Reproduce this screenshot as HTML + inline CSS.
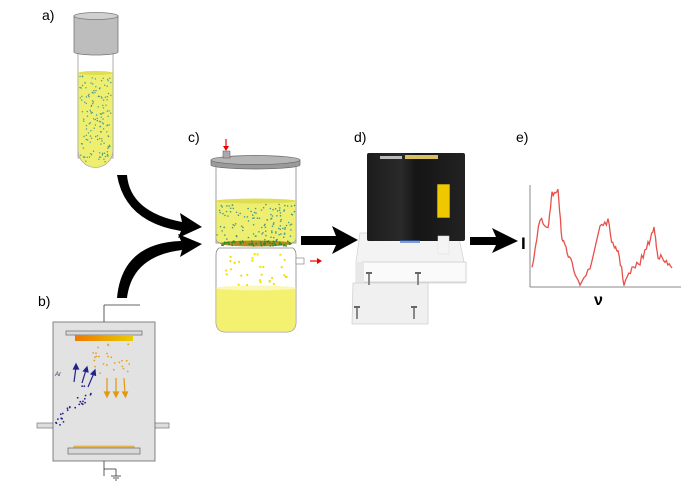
<!DOCTYPE html>
<html><head><meta charset="utf-8"><style>
html,body{margin:0;padding:0;background:#fff;}
svg{display:block;font-family:"Liberation Sans",sans-serif;}
</style></head><body>
<svg id="s" width="700" height="484" viewBox="0 0 700 484" xmlns="http://www.w3.org/2000/svg">
<defs>
<linearGradient id="tg" x1="0" x2="1"><stop offset="0" stop-color="#f07800"/><stop offset="1" stop-color="#e8cc00"/></linearGradient>
<linearGradient id="bx" x1="0" x2="1"><stop offset="0" stop-color="#1c1c1c"/><stop offset="0.35" stop-color="#2a2a2a"/><stop offset="0.5" stop-color="#151515"/><stop offset="1" stop-color="#222"/></linearGradient>
</defs>
<text x="42" y="20" font-size="14">a)</text>
<text x="38" y="306" font-size="14">b)</text>
<text x="188" y="142" font-size="14">c)</text>
<text x="354" y="142" font-size="14">d)</text>
<text x="516" y="142" font-size="14">e)</text>

<!-- a) tube -->
<rect x="78" y="52" width="35" height="106" fill="#fff" stroke="#999" stroke-width="0.8"/>
<path d="M78 73 L113 73 L113 150 A17.5 17.5 0 0 1 78 150 Z" fill="#eeee70" stroke="#aaa" stroke-width="0.8"/>
<ellipse cx="95.5" cy="73" rx="17.5" ry="2" fill="#dede50"/>
<path d="M74 16 L74 52 A22 3 0 0 0 118 52 L118 16 Z" fill="#bdbdbd" stroke="#777" stroke-width="0.8"/>
<ellipse cx="96" cy="16" rx="22" ry="3.5" fill="#d0d0d0" stroke="#777" stroke-width="0.8"/>
<g id="dotsA"></g>

<!-- curved arrows -->
<path d="M117 175 L127 175 Q130 212 182 222 L180 213 L202 227 L178 238 L181 231 Q125 222 117 175 Z" fill="#000"/>
<path d="M117 298 L127 298 Q132 256 182 250 L180 257 L202 244 L178 234 L181 241 Q122 243 117 298 Z" fill="#000"/>

<!-- b) chamber -->
<line x1="104" y1="331" x2="104" y2="305" stroke="#333" stroke-width="0.8"/>
<line x1="104" y1="305" x2="140" y2="305" stroke="#333" stroke-width="0.8"/>
<rect x="37" y="423" width="17" height="5" fill="#ddd" stroke="#777" stroke-width="0.7"/>
<rect x="154" y="423" width="15" height="5" fill="#ddd" stroke="#777" stroke-width="0.7"/>
<rect x="53" y="322" width="102" height="139" fill="#e2e2e2" stroke="#666" stroke-width="0.8"/>
<rect x="66" y="331" width="76" height="4" fill="#d8d8d8" stroke="#666" stroke-width="0.7"/>
<rect x="75" y="335" width="58" height="6" fill="url(#tg)"/>
<rect x="74" y="446" width="60" height="2.5" fill="#f0c060" stroke="#b80" stroke-width="0.4"/>
<rect x="68" y="448" width="72" height="6" fill="#d8d8d8" stroke="#666" stroke-width="0.7"/>
<line x1="104" y1="461" x2="104" y2="476" stroke="#333" stroke-width="0.8"/>
<line x1="104" y1="469" x2="116" y2="469" stroke="#333" stroke-width="0.8"/>
<line x1="116" y1="469" x2="116" y2="476" stroke="#333" stroke-width="0.8"/>
<line x1="111" y1="476" x2="121" y2="476" stroke="#333" stroke-width="0.8"/>
<line x1="113" y1="478" x2="119" y2="478" stroke="#333" stroke-width="0.8"/>
<line x1="115" y1="480" x2="117" y2="480" stroke="#333" stroke-width="0.8"/>
<text x="55" y="376" font-size="6" fill="#336" font-style="italic">Ar</text>
<g stroke="#22228a" stroke-width="1.2" fill="#22228a">
<line x1="74" y1="382" x2="76" y2="367"/><path d="M76 364 l-2.5 5 h5z"/>
<line x1="82" y1="383" x2="86" y2="370"/><path d="M87 367 l-3.5 4 l4.5 1z"/>
<line x1="88" y1="387" x2="94" y2="373"/><path d="M95 370 l-4 4 l4.5 1.3z"/>
</g>
<g stroke="#e09a10" stroke-width="1.2" fill="#e09a10">
<line x1="107" y1="378" x2="107" y2="394"/><path d="M107 397 l-2.5 -5 h5z"/>
<line x1="116" y1="378" x2="116" y2="394"/><path d="M116 397 l-2.5 -5 h5z"/>
<line x1="124" y1="378" x2="125" y2="394"/><path d="M125.5 397 l-3 -5 h5z"/>
</g>
<g id="dotsB"></g>

<!-- c) filter -->
<line x1="226" y1="139" x2="226" y2="147" stroke="#e00" stroke-width="1.2"/><path d="M226 151 l-3 -5 h6z" fill="#e00"/>
<rect x="216" y="165" width="80" height="78" fill="#fff" stroke="#888" stroke-width="0.8"/>
<path d="M216 201 L296 201 L296 238 Q296 243 290 243 L222 243 Q216 243 216 238 Z" fill="#eeee70" stroke="#999" stroke-width="0.6"/>
<ellipse cx="256" cy="201" rx="40" ry="2.5" fill="#dede50"/>
<path d="M211 160 L211 165 A44.5 4 0 0 0 300 165 L300 160 Z" fill="#9a9a9a" stroke="#666" stroke-width="0.7"/>
<ellipse cx="255.5" cy="160" rx="44.5" ry="4.5" fill="#b5b5b5" stroke="#666" stroke-width="0.7"/>
<rect x="223" y="151" width="7" height="7" fill="#aaa" stroke="#666" stroke-width="0.6"/>
<ellipse cx="256" cy="243.5" rx="36" ry="3" fill="#b08a20"/>
<g id="dotsF"></g>
<path d="M219 248 L293 248 Q296 250 296 255 L296 322 Q296 332 286 332 L226 332 Q216 332 216 322 L216 255 Q216 250 219 248 Z" fill="#fff" stroke="#888" stroke-width="0.8"/>
<path d="M216 288 L296 288 L296 322 Q296 332 286 332 L226 332 Q216 332 216 322 Z" fill="#f4f070" stroke="#aaa" stroke-width="0.6"/>
<ellipse cx="256" cy="288" rx="40" ry="2.5" fill="#faf8b8"/>
<rect x="296" y="258" width="8" height="6" fill="#fff" stroke="#888" stroke-width="0.7"/>
<line x1="310" y1="261" x2="318" y2="261" stroke="#e00" stroke-width="1.2"/><path d="M322 261 l-5 -3 v6z" fill="#e00"/>
<g id="dotsC"></g>

<!-- arrow c->d -->
<path d="M301 236 L336 236 L332 226 L358 240 L332 254 L336 245 L301 245 Z" fill="#000"/>

<!-- d) device -->
<path d="M360 233 L458 233 L464 262 L466 283 L356 283 L356 262 Z" fill="#f3f3f3" stroke="#d4d4d4" stroke-width="0.8"/>
<rect x="362" y="262" width="104" height="20" fill="#fafafa" stroke="#ccc" stroke-width="0.8"/>
<rect x="356" y="262" width="8" height="21" fill="#e8e8e8"/>
<path d="M353 283 L428 283 L428 324 L352 324 Z" fill="#f0f0f0" stroke="#d0d0d0" stroke-width="0.8"/>
<rect x="367" y="153" width="98" height="88" rx="2" fill="url(#bx)"/>
<rect x="405" y="155" width="33" height="4" fill="#d8c060"/>
<rect x="380" y="156" width="22" height="3" fill="#bbb"/>
<rect x="437" y="184" width="13" height="34" fill="#f0c800" stroke="#222" stroke-width="0.6"/>
<rect x="438" y="236" width="11" height="18" fill="#f4f4f4" stroke="#ddd" stroke-width="0.5"/>
<rect x="400" y="240" width="20" height="3" fill="#3060c0" opacity="0.6"/>
<g fill="#888"><rect x="368" y="273" width="2" height="12"/><rect x="417" y="273" width="2" height="12"/><rect x="356" y="307" width="2" height="12"/><rect x="413" y="307" width="2" height="12"/></g>
<g fill="#666"><rect x="366" y="272" width="6" height="2"/><rect x="415" y="272" width="6" height="2"/><rect x="354" y="306" width="6" height="2"/><rect x="411" y="306" width="6" height="2"/></g>

<!-- arrow d->e -->
<path d="M470 237 L496 237 L492 228 L518 241 L492 253 L496 245 L470 245 Z" fill="#000"/>

<!-- e) plot -->
<line x1="530" y1="185" x2="530" y2="287" stroke="#888" stroke-width="1"/>
<line x1="530" y1="287" x2="681" y2="287" stroke="#888" stroke-width="1"/>
<text x="521" y="249" font-size="17" font-weight="bold">I</text>
<text x="594" y="305" font-size="16" font-weight="bold">ν</text>
<polyline id="sig" fill="none" stroke="#e8504a" stroke-width="1.3"/>
</svg>
<script>
var NS="http://www.w3.org/2000/svg";var seed=7;function r(){seed=(seed*16807)%2147483647;return seed/2147483647;}
function dot(g,x,y,col,rad){var c=document.createElementNS(NS,"circle");c.setAttribute("cx",x.toFixed(1));c.setAttribute("cy",y.toFixed(1));c.setAttribute("r",rad);c.setAttribute("fill",col);g.appendChild(c);}
function dots(id,n,x0,y0,w,h,col,rad,clip){var g=document.getElementById(id);for(var i=0;i<n;i++){var x=x0+r()*w,y=y0+r()*h;if(clip&&!clip(x,y))continue;dot(g,x,y,col,rad);}}
dots("dotsA",160,80,76,31,88,"#4a9a8a",0.7,function(x,y){return y<150||Math.hypot(x-95.5,y-150)<16;});
dots("dotsF",120,217,204,78,37,"#4a9a8a",0.8);
dots("dotsF",60,221,241,70,5,"#2a8a2a",0.9);
dots("dotsC",30,222,254,70,32,"#f0e000",1.1);
dots("dotsB",26,93,344,38,30,"#e8a020",0.9);
var gb=document.getElementById("dotsB");
for(var i=0;i<28;i++){var t=r();var x=57+t*33,y=424-t*34;var s=(r()-0.5)*(6+t*14);dot(gb,x+s*0.7,y+s*0.7,"#22228a",0.9);}
var p=[];var base=[[532,268],[540,220],[548,230],[552,195],[558,188],[562,240],[566,250],[572,265],[580,282],[590,270],[600,225],[608,222],[614,250],[618,250],[624,283],[632,270],[640,262],[648,245],[654,228],[658,255],[665,262],[672,268]];
for(var i=0;i<base.length-1;i++){var a=base[i],b=base[i+1];for(var t=0;t<1;t+=0.2){var xx=a[0]+(b[0]-a[0])*t,yy=a[1]+(b[1]-a[1])*t+(r()-0.5)*7;p.push(xx.toFixed(1)+","+yy.toFixed(1));}}
p.push("672,268");document.getElementById("sig").setAttribute("points",p.join(" "));
</script>
</body></html>
